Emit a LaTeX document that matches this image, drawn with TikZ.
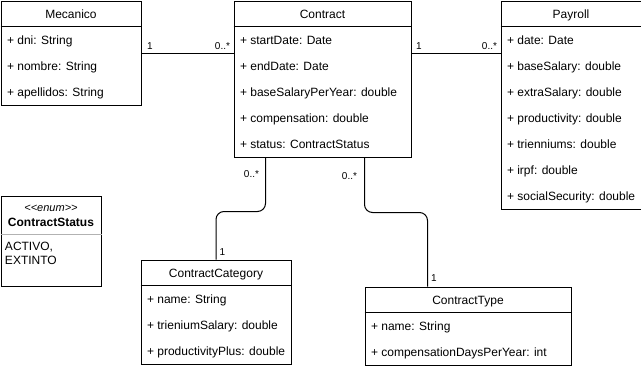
\documentclass[tikz,border=0pt]{standalone}
\usepackage{fontspec}
\setmainfont{Liberation Sans}
\usetikzlibrary{positioning}

\begin{document}
\begin{tikzpicture}[
    x=1pt, y=-1pt,
    line width=1pt,
    cls/.style={
        rectangle,
        draw,
        anchor=north west,
        inner sep=0pt,
        fill=white
    },
    title/.style={
        anchor=base,
        inner sep=0pt,
        font=\fontsize{12}{14}\selectfont
    },
    attr/.style={
        anchor=base west,
        inner sep=0pt,
        font=\fontsize{12}{14}\selectfont
    },
    mult/.style={
        inner sep=0pt,
        font=\fontsize{10}{12}\selectfont
    }
]
\fill[white] (0,0) rectangle (641,367);
\useasboundingbox (0,0) rectangle (641,367);

% classes
\node [cls, minimum width=140pt, minimum height=104pt] (mecanico) at (0.5, 0.5) {};
\node [cls, minimum width=177pt, minimum height=156pt] (contract) at (233.5, 0.5) {};
\node [cls, minimum width=140pt, minimum height=208pt] (payroll) at (500.5, 0.5) {};
\node [cls, minimum width=150pt, minimum height=104pt] (category) at (140.5, 259.5) {};
\node [cls, minimum width=206pt, minimum height=78pt] (type) at (364.5, 286.5) {};
\node [cls, minimum width=100pt, minimum height=90pt] (status) at (0.5, 195.5) {};

\node [title] (mecanico-t) at ([yshift=-18pt]mecanico.north) {Mecanico};
\node [title] (contract-t) at ([yshift=-18pt]contract.north) {Contract};
\node [title] (payroll-t) at ([yshift=-18pt]payroll.north) {Payroll};
\node [title] (category-t) at ([yshift=-18pt]category.north) {ContractCategory};
\node [title] (type-t) at ([yshift=-18pt]type.north) {ContractType};

\foreach \c in {mecanico, contract, payroll, category, type}
    \draw ([yshift=-26pt]\c.north west) -- ([yshift=-26pt]\c.north east);

\foreach \a [count=\i] in {dni: String, nombre: String, apellidos: String}
    \node [attr] (mecanico-\i) at ([xshift=6pt,yshift={-18pt-26pt*\i}]mecanico.north west) {+ \a};
\foreach \a [count=\i] in {startDate: Date, endDate: Date, baseSalaryPerYear: double,
        compensation: double, status: ContractStatus}
    \node [attr] (contract-\i) at ([xshift=6pt,yshift={-18pt-26pt*\i}]contract.north west) {+ \a};
\foreach \a [count=\i] in {date: Date, baseSalary: double, extraSalary: double,
        productivity: double, trienniums: double, irpf: double, socialSecurity: double}
    \node [attr] (payroll-\i) at ([xshift=6pt,yshift={-18pt-26pt*\i}]payroll.north west) {+ \a};
\foreach \a [count=\i] in {name: String, trieniumSalary: double, productivityPlus: double}
    \node [attr] (category-\i) at ([xshift=6pt,yshift={-18pt-26pt*\i}]category.north west) {+ \a};
\foreach \a [count=\i] in {name: String, compensationDaysPerYear: int}
    \node [attr] (type-\i) at ([xshift=6pt,yshift={-18pt-26pt*\i}]type.north west) {+ \a};

% enumeration
\node [title, font=\fontsize{11}{13}\selectfont\itshape] (status-s) at ([yshift=-16pt]status.north) {<\kern0pt<enum>\kern0pt>};
\node [title, font=\fontsize{12}{14}\selectfont\bfseries] (status-t) at ([yshift=-31pt]status.north) {ContractStatus};
\draw [gray!60] ([yshift=-39pt]status.north west) -- ([yshift=-39pt]status.north east);
\node [attr, anchor=north west, align=left] (status-v) at ([xshift=4pt,yshift=-46pt]status.north west) {ACTIVO,\\EXTINTO};

% associations
\draw (mecanico.east) -- (mecanico.east -| contract.west);
\draw (mecanico.east -| contract.east) -- (mecanico.east -| payroll.west);
\draw [rounded corners=8pt] ([xshift=32pt]contract.south west) -- ++(0,54) -| (category.north);
\draw [rounded corners=8pt] ([xshift=131pt]contract.south west) -- ++(0,55) -| ([xshift=63pt]type.north west);

\node [mult, anchor=south west] (m1) at ([xshift=5pt,yshift=3pt]mecanico.east) {1};
\node [mult, anchor=south east] (m2) at ([xshift=-3pt,yshift=3pt]mecanico.east -| contract.west) {0..*};
\node [mult, anchor=south west] (m3) at ([xshift=4pt,yshift=3pt]mecanico.east -| contract.east) {1};
\node [mult, anchor=south east] (m4) at ([xshift=-3pt,yshift=3pt]mecanico.east -| payroll.west) {0..*};
\node [mult, anchor=north east] (m5) at ([xshift=26pt,yshift=-13pt]contract.south west) {0..*};
\node [mult, anchor=south west] (m6) at ([xshift=3pt,yshift=4pt]category.north) {1};
\node [mult, anchor=north east] (m7) at ([xshift=124pt,yshift=-15pt]contract.south west) {0..*};
\node [mult, anchor=south west] (m8) at ([xshift=66pt,yshift=5pt]type.north west) {1};
\end{tikzpicture}
\end{document}
